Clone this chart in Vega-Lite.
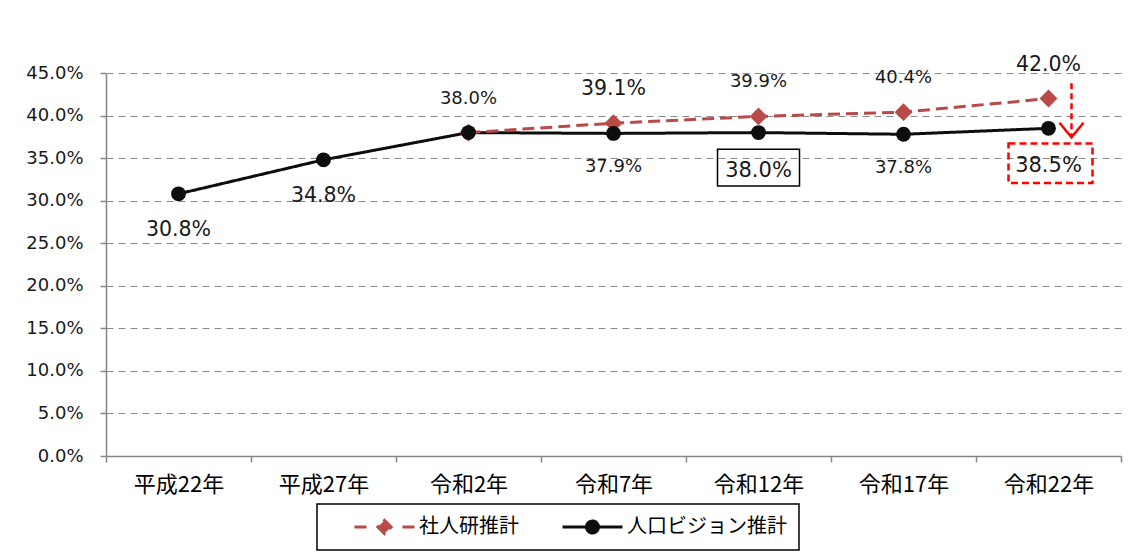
{
  "$schema": "https://vega.github.io/schema/vega-lite/v6.json",
  "width": 1015,
  "height": 383,
  "autosize": {"type": "none"},
  "padding": {"left": 106, "top": 73, "right": 19, "bottom": 98},
  "background": "white",
  "config": {"view": {"stroke": null}},
  "datasets": {
    "main": [
      {"year": "平成22年", "series": "人口ビジョン推計", "value": 30.8},
      {"year": "平成27年", "series": "人口ビジョン推計", "value": 34.8},
      {"year": "令和2年", "series": "人口ビジョン推計", "value": 38.0},
      {"year": "令和7年", "series": "人口ビジョン推計", "value": 37.9},
      {"year": "令和12年", "series": "人口ビジョン推計", "value": 38.0},
      {"year": "令和17年", "series": "人口ビジョン推計", "value": 37.8},
      {"year": "令和22年", "series": "人口ビジョン推計", "value": 38.5},
      {"year": "令和2年", "series": "社人研推計", "value": 38.0},
      {"year": "令和7年", "series": "社人研推計", "value": 39.1},
      {"year": "令和12年", "series": "社人研推計", "value": 39.9},
      {"year": "令和17年", "series": "社人研推計", "value": 40.4},
      {"year": "令和22年", "series": "社人研推計", "value": 42.0}
    ]
  },
  "data": {"name": "main"},
  "encoding": {
    "x": {
      "field": "year",
      "type": "nominal",
      "sort": ["平成22年", "平成27年", "令和2年", "令和7年", "令和12年", "令和17年", "令和22年"],
      "scale": {"type": "band", "paddingInner": 0, "paddingOuter": 0},
      "axis": {
        "title": null,
        "labelAngle": 0,
        "labelFont": "Noto Sans CJK JP",
        "labelFontSize": 22,
        "labelColor": "#000",
        "labelPadding": 12,
        "tickBand": "extent",
        "tickSize": 6,
        "tickColor": "#868686",
        "tickWidth": 1.5,
        "domainColor": "#868686",
        "domainWidth": 1.5,
        "grid": false
      }
    },
    "y": {
      "field": "value",
      "type": "quantitative",
      "scale": {"domain": [0, 45], "nice": false, "zero": true},
      "axis": {
        "title": null,
        "values": [0, 5, 10, 15, 20, 25, 30, 35, 40, 45],
        "labelExpr": "format(datum.value, '.1f') + '%'",
        "labelFont": "DejaVu Sans",
        "labelFontSize": 18,
        "labelColor": "#1a1a1a",
        "labelPadding": 17,
        "tickSize": 6,
        "tickColor": "#868686",
        "tickWidth": 1.5,
        "domainColor": "#868686",
        "domainWidth": 1.5,
        "grid": true,
        "gridColor": "#8a8a8a",
        "gridDash": [7, 5],
        "gridWidth": 1.2
      }
    }
  },
  "layer": [
    {
      "mark": {"type": "line", "strokeWidth": 3},
      "encoding": {
        "color": {
          "field": "series",
          "type": "nominal",
          "scale": {"domain": ["社人研推計", "人口ビジョン推計"], "range": ["#B84A47", "#0d0d0d"]},
          "legend": {
            "orient": "none",
            "legendX": 211,
            "legendY": 431,
            "direction": "horizontal",
            "title": null,
            "symbolSize": 3600,
            "symbolOffset": 24,
            "labelFont": "Noto Sans CJK JP",
            "labelFontSize": 20,
            "labelColor": "#000",
            "labelOffset": 3,
            "columnPadding": 18,
            "padding": 12,
            "strokeColor": "#000",
            "clipHeight": 22,
            "encode": {
              "legend": {"update": {"strokeWidth": {"value": 1.5}}},
              "symbols": {
                "update": {
                  "shape": {"signal": "datum.value === '社人研推計' ? 'M-1,0H-0.6M0.6,0H1M0,-0.22L0.22,0L0,0.22L-0.22,0Z' : 'M-1,0H1M0.2,0A0.2,0.2 0 1,1 -0.2,0A0.2,0.2 0 1,1 0.2,0Z'"},
                  "fill": {"signal": "datum.value === '社人研推計' ? '#B84A47' : '#0d0d0d'"},
                  "stroke": {"signal": "datum.value === '社人研推計' ? '#B84A47' : '#0d0d0d'"},
                  "strokeWidth": {"value": 3},
                  "strokeDash": {"value": []},
                  "opacity": {"value": 1},
                  "fillOpacity": {"value": 1},
                  "size": {"value": 3600}
                }
              }
            }
          }
        },
        "strokeDash": {
          "field": "series",
          "type": "nominal",
          "scale": {"domain": ["社人研推計", "人口ビジョン推計"], "range": [[12, 6], [1, 0]]},
          "legend": null
        }
      }
    },
    {
      "transform": [{"filter": {"field": "series", "equal": "社人研推計"}}],
      "mark": {"type": "point", "shape": "diamond", "filled": true, "size": 320, "color": "#B84A47", "opacity": 1}
    },
    {
      "transform": [{"filter": {"field": "series", "equal": "人口ビジョン推計"}}],
      "mark": {"type": "point", "shape": "circle", "filled": true, "size": 220, "color": "#0d0d0d", "opacity": 1}
    },
    {
      "transform": [{"filter": {"and": [{"field": "series", "equal": "社人研推計"}, {"field": "year", "oneOf": ["令和2年", "令和12年", "令和17年"]}]}}],
      "mark": {"type": "text", "dy": -34, "font": "DejaVu Sans", "fontSize": 18, "color": "#1a1a1a", "baseline": "middle", "text": {"expr": "format(datum.value, '.1f') + '%'"}}
    },
    {
      "transform": [{"filter": {"and": [{"field": "series", "equal": "社人研推計"}, {"field": "year", "oneOf": ["令和7年", "令和22年"]}]}}],
      "mark": {"type": "text", "dy": -34, "font": "DejaVu Sans", "fontSize": 20.5, "color": "#1a1a1a", "baseline": "middle", "text": {"expr": "format(datum.value, '.1f') + '%'"}}
    },
    {
      "transform": [{"filter": {"and": [{"field": "series", "equal": "人口ビジョン推計"}, {"field": "year", "oneOf": ["令和7年", "令和17年"]}]}}],
      "mark": {"type": "text", "dy": 34, "font": "DejaVu Sans", "fontSize": 18, "color": "#1a1a1a", "baseline": "middle", "text": {"expr": "format(datum.value, '.1f') + '%'"}}
    },
    {
      "transform": [{"filter": {"and": [{"field": "series", "equal": "人口ビジョン推計"}, {"field": "year", "oneOf": ["平成22年", "平成27年"]}]}}],
      "mark": {"type": "text", "dy": 36, "font": "DejaVu Sans", "fontSize": 20.5, "color": "#1a1a1a", "baseline": "middle", "text": {"expr": "format(datum.value, '.1f') + '%'"}}
    },
    {
      "transform": [{"filter": {"and": [{"field": "series", "equal": "人口ビジョン推計"}, {"field": "year", "oneOf": ["令和12年", "令和22年"]}]}}],
      "mark": {"type": "text", "dy": 38, "font": "DejaVu Sans", "fontSize": 21, "color": "#1a1a1a", "baseline": "middle", "text": {"expr": "format(datum.value, '.1f') + '%'"}}
    },
    {
      "transform": [{"filter": {"and": [{"field": "series", "equal": "人口ビジョン推計"}, {"field": "year", "equal": "令和12年"}]}}],
      "mark": {"type": "point", "shape": "M-1,-0.45H1V0.45H-1Z", "filled": false, "size": 6724, "stroke": "#000", "strokeWidth": 1.5, "opacity": 1, "yOffset": 35}
    },
    {
      "transform": [{"filter": {"and": [{"field": "series", "equal": "人口ビジョン推計"}, {"field": "year", "equal": "令和22年"}]}}],
      "mark": {"type": "point", "shape": "M-1,-0.47H1V0.47H-1Z", "filled": false, "size": 7056, "stroke": "#FF0000", "strokeWidth": 2.5, "strokeDash": [7, 4], "opacity": 1, "yOffset": 35, "xOffset": 2}
    },
    {
      "transform": [{"filter": {"and": [{"field": "series", "equal": "人口ビジョン推計"}, {"field": "year", "equal": "令和22年"}]}}],
      "mark": {"type": "rule", "stroke": "#FF0000", "strokeWidth": 2.5, "strokeDash": [6, 4], "xOffset": 23},
      "encoding": {
        "y": {"datum": 43.8, "type": "quantitative"},
        "y2": {"datum": 37.6}
      }
    },
    {
      "transform": [{"filter": {"and": [{"field": "series", "equal": "人口ビジョン推計"}, {"field": "year", "equal": "令和22年"}]}}],
      "mark": {"type": "point", "shape": "M-1,-0.6L0,0.6L1,-0.6", "filled": false, "size": 576, "stroke": "#FF0000", "strokeWidth": 2.5, "opacity": 1, "xOffset": 23},
      "encoding": {
        "y": {"datum": 38.3, "type": "quantitative"}
      }
    }
  ]
}
